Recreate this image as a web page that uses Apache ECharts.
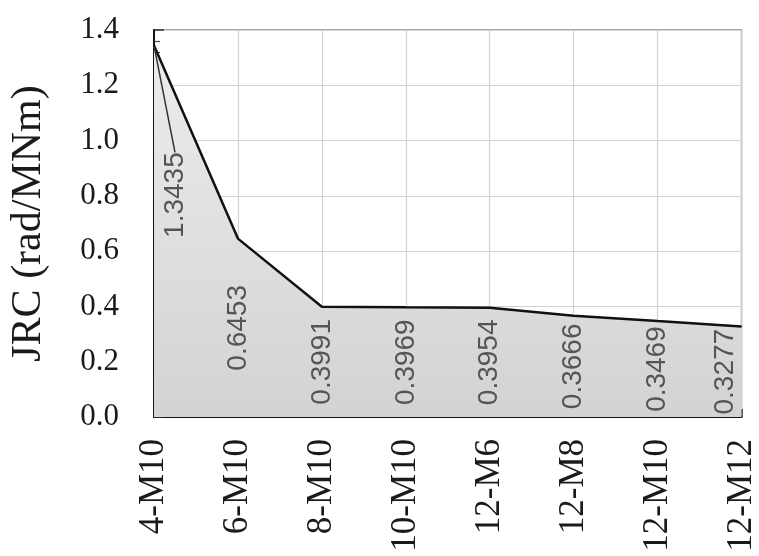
<!DOCTYPE html>
<html>
<head>
<meta charset="utf-8">
<script src="https://cdn.jsdelivr.net/npm/echarts@6/dist/echarts.min.js"></script>
<style>
  html, body { margin: 0; padding: 0; background: #fff; }
  #chart { width: 759px; height: 556px; }
</style>
</head>
<body>
<div id="chart"></div>
<script>
const categories = ['4-M10', '6-M10', '8-M10', '10-M10', '12-M6', '12-M8', '12-M10', '12-M12'];
const jrcValues = [1.3435, 0.6453, 0.3991, 0.3969, 0.3954, 0.3666, 0.3469, 0.3277];
const yTicks = { min: 0, max: 1.4, interval: 0.2 };
const yAxisName = 'JRC (rad/MNm)';

const serif = 'Liberation Serif, Times New Roman, serif';
const sans = 'Liberation Sans, Arial, sans-serif';

const chart = echarts.init(document.getElementById('chart'));

const lastIdx = jrcValues.length - 1;
const lineData = jrcValues.map((v, i) => i === 0 ? { value: v, label: { show: true } } : v);
const barData = jrcValues.map((v, i) => i === 0 ? { value: v, label: { show: false } } : v);

chart.setOption({
  animation: false,
  backgroundColor: '#ffffff',
  grid: {
    left: 153, right: 13, top: 30, bottom: 139,
    show: true, borderColor: '#8a8a8a', borderWidth: 1.5, backgroundColor: 'transparent'
  },
  xAxis: {
    type: 'category',
    data: categories,
    boundaryGap: false,
    axisLine: { show: true, lineStyle: { color: '#111', width: 2 } },
    axisTick: { show: true, inside: true, length: 8, lineStyle: { color: '#222', width: 1.5 } },
    splitLine: { show: true, lineStyle: { color: '#d2d2d2', width: 1.2 } },
    axisLabel: {
      rotate: 90, fontFamily: serif, fontSize: 35, color: '#1a1a1a', margin: 22
    }
  },
  yAxis: {
    type: 'value',
    min: yTicks.min, max: yTicks.max, interval: yTicks.interval,
    name: yAxisName,
    nameLocation: 'middle',
    nameGap: 104,
    nameTextStyle: { fontFamily: serif, fontSize: 42, color: '#1a1a1a' },
    axisLine: { show: true, lineStyle: { color: '#111', width: 2 } },
    axisTick: { show: true, inside: true, length: 10, lineStyle: { color: '#333', width: 1.5 } },
    minorTick: { show: true, splitNumber: 5, length: 6, lineStyle: { color: '#444', width: 1.2 } },
    splitLine: { show: true, lineStyle: { color: '#d2d2d2', width: 1.2 } },
    axisLabel: {
      fontFamily: serif, fontSize: 31, color: '#1a1a1a', margin: 35,
      formatter: v => v.toFixed(1)
    }
  },
  series: [
    {
      type: 'bar',
      data: barData,
      barWidth: 1,
      silent: true,
      itemStyle: { color: 'rgba(0,0,0,0)' },
      label: {
        show: true, position: 'inside', rotate: 90,
        fontFamily: sans, fontSize: 28, color: '#555',
        formatter: p => p.value.toFixed(4)
      },
      labelLayout: p => (p.dataIndex === lastIdx ? { dy: -16 } : {}),
      z: 3
    },
    {
      type: 'line',
      data: lineData,
      symbol: 'circle',
      symbolSize: 1,
      showSymbol: true,
      itemStyle: { color: '#111' },
      lineStyle: { color: '#111', width: 2.5 },
      areaStyle: {
        color: new echarts.graphic.LinearGradient(0, 0, 0, 1, [
          { offset: 0, color: '#ececec' },
          { offset: 1, color: '#d3d3d3' }
        ]),
        opacity: 1
      },
      label: {
        show: false, position: 'top', distance: 5, rotate: 90,
        align: 'center', verticalAlign: 'middle',
        fontFamily: sans, fontSize: 28, color: '#555',
        formatter: p => p.value.toFixed(4)
      },
      labelLine: { show: true, lineStyle: { color: '#333', width: 1.5 } },
      labelLayout: p => (p.dataIndex === 0 ? { dx: -155, dy: 21 } : {}),
      z: 2
    }
  ]
});
</script>
</body>
</html>
